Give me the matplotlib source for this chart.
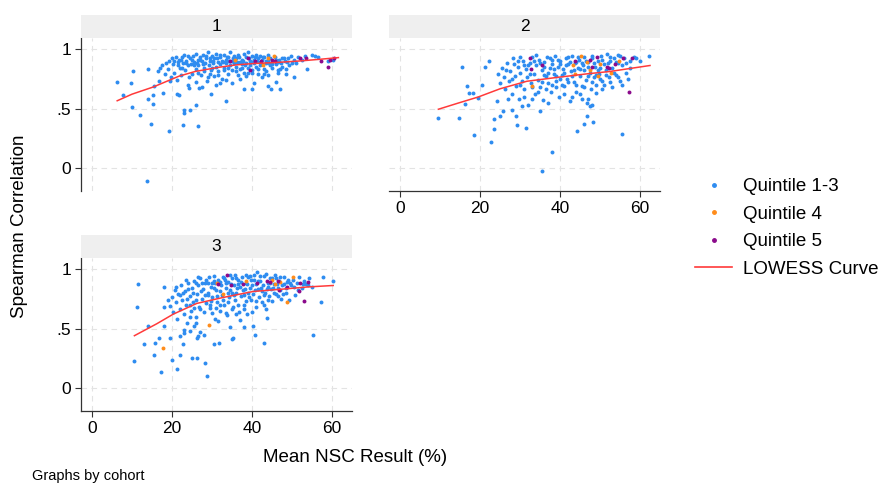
import matplotlib
matplotlib.use("Agg")
import numpy as np
import matplotlib.pyplot as plt
from matplotlib.lines import Line2D

plt.rcParams['font.family'] = ['Liberation Sans', 'DejaVu Sans']

# ---- data (x = mean NSC result %, y = Spearman correlation) ----
cohort1_q13 = [
    (6.3, 0.725), (7.7, 0.61), (9.7, 0.71), (10.2, 0.81), (10.1, 0.51), (12.0, 0.45),
    (14.1, 0.83), (13.9, 0.58), (15.2, 0.54), (14.7, 0.37), (13.75, -0.11), (15.2, 0.61),
    (15.4, 0.69), (16.8, 0.73), (17.8, 0.63), (19.3, 0.31), (19.5, 0.73), (21.25, 0.62),
    (21.75, 0.61), (22.75, 0.36), (22.9, 0.46), (23.1, 0.49), (24.4, 0.49), (25.9, 0.53),
    (26.5, 0.35), (24.3, 0.67), (26.75, 0.67), (29.7, 0.625), (33.6, 0.56), (32.0, 0.71),
    (38.1, 0.66), (40.1, 0.66), (40.5, 0.71), (43.9, 0.69), (44.7, 0.66), (46.0, 0.72),
    (46.9, 0.66), (50.5, 0.76), (53.7, 0.83), (55.75, 0.94), (59.0, 0.90), (60.3, 0.91),
    (16.5, 0.81), (17.0, 0.84), (17.5, 0.86), (18.2, 0.79), (18.5, 0.88), (19.0, 0.83),
    (19.2, 0.90), (19.8, 0.76), (20.0, 0.92), (20.3, 0.87), (20.6, 0.80), (20.9, 0.93),
    (21.2, 0.74), (21.4, 0.89), (21.8, 0.91), (22.0, 0.84), (22.3, 0.78), (22.5, 0.93),
    (22.8, 0.88), (23.0, 0.95), (23.3, 0.82), (23.6, 0.90), (23.9, 0.86), (24.2, 0.76),
    (24.5, 0.92), (24.8, 0.87), (25.0, 0.79), (25.3, 0.94), (25.6, 0.89), (25.9, 0.83),
    (26.1, 0.96), (26.4, 0.91), (26.6, 0.86), (26.9, 0.93), (27.2, 0.78), (27.4, 0.90),
    (27.7, 0.95), (27.9, 0.84), (28.2, 0.88), (28.4, 0.92), (28.7, 0.73), (28.9, 0.97),
    (29.2, 0.86), (29.4, 0.90), (29.7, 0.82), (29.9, 0.94), (30.2, 0.88), (30.4, 0.77),
    (30.6, 0.92), (30.9, 0.85), (31.1, 0.96), (31.4, 0.89), (31.6, 0.81), (31.9, 0.93),
    (32.1, 0.87), (32.4, 0.90), (32.6, 0.75), (32.9, 0.95), (33.1, 0.84), (33.4, 0.91),
    (33.6, 0.88), (33.9, 0.79), (34.1, 0.93), (34.4, 0.86), (34.6, 0.97), (34.9, 0.90),
    (35.1, 0.82), (35.4, 0.94), (35.6, 0.88), (35.9, 0.92), (36.1, 0.85), (36.4, 0.78),
    (36.6, 0.95), (36.9, 0.89), (37.1, 0.83), (37.4, 0.91), (37.6, 0.87), (37.9, 0.96),
    (38.1, 0.80), (38.4, 0.93), (38.6, 0.88), (38.9, 0.84), (39.1, 0.97), (39.4, 0.90),
    (39.6, 0.86), (39.9, 0.94), (40.1, 0.82), (40.4, 0.91), (40.6, 0.88), (40.9, 0.95),
    (41.1, 0.85), (41.4, 0.92), (41.6, 0.79), (41.9, 0.89), (42.1, 0.94), (42.4, 0.87),
    (42.6, 0.91), (42.9, 0.83), (43.1, 0.93), (43.4, 0.88), (43.6, 0.81), (43.9, 0.90),
    (44.1, 0.95), (44.4, 0.86), (44.6, 0.92), (44.9, 0.84), (45.3, 0.90), (45.7, 0.93),
    (46.0, 0.87), (46.4, 0.82), (46.8, 0.91), (47.2, 0.88), (47.6, 0.85), (48.0, 0.92),
    (48.4, 0.83), (48.8, 0.89), (49.3, 0.86), (49.8, 0.94), (50.4, 0.91), (51.0, 0.88),
    (51.5, 0.93), (52.5, 0.91), (53.3, 0.94), (55.0, 0.95), (56.5, 0.93),
    (24.0, 0.70), (26.0, 0.72), (27.5, 0.68), (29.0, 0.76), (31.0, 0.70), (33.5, 0.74),
    (35.0, 0.71), (37.0, 0.75), (38.5, 0.77), (40.0, 0.80), (42.5, 0.76), (44.0, 0.78),
    (46.5, 0.80), (48.5, 0.79),
    (20.5, 0.90), (21.5, 0.86), (22.2, 0.91), (23.4, 0.88), (24.0, 0.94), (25.1, 0.91),
    (26.2, 0.88), (27.0, 0.91), (27.8, 0.87), (28.6, 0.94), (29.5, 0.92), (30.3, 0.90),
    (31.2, 0.92), (32.0, 0.95), (32.8, 0.89), (33.7, 0.93), (34.3, 0.90), (35.2, 0.92),
    (36.2, 0.89), (36.8, 0.93), (37.7, 0.90), (38.3, 0.86), (39.2, 0.92), (39.8, 0.89),
    (40.7, 0.93), (41.3, 0.90), (42.0, 0.86), (42.8, 0.93), (43.5, 0.90), (44.3, 0.88),
    (45.0, 0.87), (45.9, 0.91), (46.6, 0.89), (47.5, 0.92), (48.2, 0.90), (49.0, 0.92),
    (50.0, 0.88), (30.0, 0.84), (33.0, 0.82), (36.0, 0.81), (39.0, 0.80), (41.5, 0.83),
    (43.0, 0.79), (47.0, 0.83), (22.5, 0.84), (25.5, 0.86), (28.0, 0.81), (31.5, 0.78),
    (34.0, 0.84), (37.5, 0.84), (26.5, 0.80), (29.5, 0.79),
]
cohort1_q4 = [(35.75, 0.91), (44.1, 0.92), (45.5, 0.94), (42.8, 0.86)]
cohort1_q5 = [
    (34.5, 0.895), (39.1, 0.925), (39.5, 0.82), (40.8, 0.90), (42.25, 0.895), (45.0, 0.91),
    (45.75, 0.90), (52.0, 0.92), (53.5, 0.925), (57.25, 0.90), (58.9, 0.85), (59.6, 0.91),
    (60.6, 0.925),
]
cohort1_lowess_x = [6.3, 10.0, 15.3, 18.5, 21.7, 25.8, 31.7, 36.0, 40.2, 46.0, 52.0, 57.0, 61.6]
cohort1_lowess_y = [0.565, 0.62, 0.68, 0.725, 0.77, 0.81, 0.845, 0.865, 0.876, 0.885, 0.898, 0.912, 0.926]

cohort2_q13 = [
    (9.6, 0.42), (14.7, 0.42), (15.5, 0.845), (16.7, 0.69), (17.2, 0.63), (18.2, 0.63),
    (16.25, 0.54), (18.5, 0.28), (19.6, 0.59), (20.6, 0.70), (21.25, 0.845), (22.25, 0.90),
    (22.75, 0.22), (23.5, 0.41), (23.5, 0.33), (24.2, 0.56), (25.0, 0.44), (25.8, 0.48),
    (27.9, 0.49), (28.9, 0.44), (29.25, 0.36), (31.6, 0.34), (38.0, 0.14), (35.4, -0.02),
    (44.25, 0.31), (46.1, 0.37), (46.8, 0.44), (48.2, 0.39), (55.6, 0.29), (62.25, 0.94),
    (24.5, 0.79), (25.0, 0.71), (25.5, 0.84), (26.0, 0.76), (26.3, 0.66), (26.8, 0.88),
    (27.2, 0.73), (27.5, 0.81), (28.0, 0.62), (28.3, 0.92), (28.7, 0.77), (29.0, 0.69),
    (29.4, 0.85), (29.8, 0.58), (30.1, 0.80), (30.4, 0.73), (30.8, 0.90), (31.1, 0.66),
    (31.4, 0.83), (31.8, 0.76), (32.1, 0.53), (32.4, 0.88), (32.8, 0.71), (33.1, 0.93),
    (33.5, 0.79), (33.8, 0.62), (34.1, 0.86), (34.5, 0.74), (34.8, 0.91), (35.1, 0.68),
    (35.5, 0.82), (35.8, 0.57), (36.1, 0.89), (36.5, 0.77), (36.8, 0.93), (37.1, 0.71),
    (37.5, 0.84), (37.8, 0.64), (38.1, 0.87), (38.5, 0.79), (38.8, 0.94), (39.1, 0.73),
    (39.5, 0.85), (39.8, 0.60), (40.1, 0.90), (40.5, 0.78), (40.8, 0.83), (41.1, 0.69),
    (41.5, 0.92), (41.8, 0.75), (42.1, 0.87), (42.5, 0.56), (42.8, 0.81), (43.1, 0.94),
    (43.5, 0.72), (43.8, 0.88), (44.1, 0.64), (44.5, 0.84), (44.8, 0.91), (45.1, 0.77),
    (45.5, 0.69), (45.8, 0.86), (46.1, 0.93), (46.5, 0.74), (46.8, 0.55), (47.1, 0.89),
    (47.5, 0.80), (47.8, 0.66), (48.1, 0.92), (48.5, 0.76), (48.8, 0.85), (49.1, 0.70),
    (49.5, 0.90), (49.8, 0.79), (50.2, 0.94), (50.6, 0.73), (51.0, 0.87), (51.4, 0.82),
    (51.8, 0.96), (52.2, 0.76), (52.6, 0.90), (53.0, 0.84), (53.5, 0.92), (54.0, 0.78),
    (54.5, 0.88), (55.0, 0.73), (55.5, 0.86), (56.0, 0.92), (56.5, 0.80), (57.0, 0.75),
    (57.5, 0.90), (58.5, 0.93), (60.0, 0.90),
    (28.5, 0.87), (30.0, 0.93), (32.0, 0.86), (34.0, 0.95), (36.0, 0.85), (38.0, 0.91),
    (40.0, 0.87), (42.0, 0.93), (44.0, 0.89), (46.0, 0.82), (48.0, 0.94), (50.0, 0.84),
    (52.0, 0.88), (54.5, 0.95), (36.5, 0.66), (39.0, 0.68), (41.0, 0.62), (43.0, 0.60),
    (45.0, 0.62), (47.0, 0.58), (49.0, 0.63), (51.0, 0.70), (53.0, 0.68), (55.5, 0.70),
    (47.5, 0.52), (48.0, 0.53), (33.0, 0.58), (35.0, 0.48), (37.0, 0.55), (31.0, 0.60),
    (27.0, 0.58), (30.5, 0.52),
    (26.5, 0.82), (28.0, 0.75), (29.5, 0.90), (31.0, 0.86), (32.5, 0.79), (33.5, 0.90),
    (35.0, 0.88), (36.0, 0.78), (37.5, 0.92), (38.5, 0.83), (39.5, 0.91), (40.5, 0.70),
    (41.5, 0.86), (42.5, 0.89), (43.5, 0.82), (44.5, 0.93), (45.5, 0.88), (46.5, 0.90),
    (47.0, 0.77), (48.5, 0.88), (49.5, 0.82), (50.5, 0.91), (51.5, 0.78), (52.5, 0.93),
    (53.5, 0.80), (54.0, 0.89), (55.0, 0.94), (56.5, 0.88), (57.5, 0.84), (59.0, 0.92),
    (30.0, 0.70), (33.0, 0.68), (35.5, 0.72), (38.0, 0.70), (40.0, 0.75), (42.0, 0.72),
    (44.0, 0.70), (46.0, 0.68), (48.0, 0.72), (50.0, 0.75), (52.5, 0.72), (54.5, 0.76),
    (37.0, 0.80), (39.0, 0.77), (41.0, 0.80), (43.0, 0.77), (45.0, 0.83), (47.0, 0.85),
    (49.0, 0.78), (34.5, 0.64), (45.5, 0.58), (50.5, 0.66),
]
cohort2_q4 = [
    (45.25, 0.94), (43.3, 0.86), (46.8, 0.89), (47.5, 0.82), (50.0, 0.87), (49.6, 0.77),
    (52.75, 0.80), (54.75, 0.90), (43.7, 0.79), (32.9, 0.69),
]
cohort2_q5 = [
    (35.4, 0.86), (43.75, 0.90), (47.5, 0.91), (47.9, 0.85), (49.25, 0.93), (51.7, 0.85),
    (53.75, 0.875), (55.8, 0.92), (58.1, 0.92), (57.3, 0.64), (52.3, 0.84), (32.5, 0.92),
    (32.75, 0.83),
]
cohort2_lowess_x = [9.6, 14.5, 19.6, 25.0, 31.7, 39.2, 46.7, 52.5, 57.5, 62.5]
cohort2_lowess_y = [0.494, 0.545, 0.597, 0.665, 0.728, 0.76, 0.79, 0.81, 0.835, 0.86]

cohort3_q13 = [
    (10.5, 0.23), (11.2, 0.68), (11.5, 0.87), (13.0, 0.37), (14.0, 0.52), (15.5, 0.28),
    (15.7, 0.38), (16.75, 0.42), (17.3, 0.14), (18.0, 0.68), (18.1, 0.85), (18.1, 0.52),
    (19.5, 0.42), (20.1, 0.24), (21.3, 0.165), (22.1, 0.28), (22.1, 0.44), (22.9, 0.49),
    (22.8, 0.37), (25.0, 0.25), (26.2, 0.25), (26.6, 0.44), (28.2, 0.21), (28.7, 0.105),
    (30.5, 0.37), (31.8, 0.38), (34.9, 0.41), (38.0, 0.51), (40.2, 0.52), (40.8, 0.45),
    (43.0, 0.375), (43.7, 0.59), (55.3, 0.45), (57.25, 0.72), (57.7, 0.93), (60.3, 0.90),
    (19.0, 0.74), (19.5, 0.69), (20.0, 0.76), (20.3, 0.64), (20.7, 0.82), (21.0, 0.72),
    (21.3, 0.58), (21.6, 0.79), (22.0, 0.66), (22.3, 0.86), (22.6, 0.74), (22.9, 0.62),
    (23.2, 0.81), (23.5, 0.70), (23.8, 0.55), (24.1, 0.88), (24.4, 0.77), (24.7, 0.65),
    (25.0, 0.84), (25.3, 0.72), (25.6, 0.90), (25.9, 0.60), (26.2, 0.79), (26.5, 0.86),
    (26.8, 0.68), (27.1, 0.92), (27.4, 0.75), (27.7, 0.83), (28.0, 0.64), (28.3, 0.88),
    (28.6, 0.71), (28.9, 0.80), (29.2, 0.93), (29.5, 0.67), (29.8, 0.85), (30.1, 0.76),
    (30.4, 0.90), (30.7, 0.58), (31.0, 0.82), (31.3, 0.72), (31.6, 0.91), (31.9, 0.65),
    (32.2, 0.86), (32.5, 0.78), (32.8, 0.93), (33.1, 0.70), (33.4, 0.84), (33.7, 0.61),
    (34.0, 0.89), (34.3, 0.76), (34.6, 0.82), (34.9, 0.92), (35.2, 0.68), (35.5, 0.86),
    (35.8, 0.74), (36.1, 0.80), (36.4, 0.91), (36.7, 0.64), (37.0, 0.85), (37.3, 0.77),
    (37.6, 0.93), (37.9, 0.70), (38.2, 0.83), (38.5, 0.88), (38.8, 0.62), (39.1, 0.80),
    (39.4, 0.94), (39.7, 0.74), (40.0, 0.86), (40.3, 0.79), (40.6, 0.91), (40.9, 0.68),
    (41.2, 0.97), (41.5, 0.83), (41.8, 0.76), (42.1, 0.90), (42.4, 0.72), (42.7, 0.86),
    (43.0, 0.94), (43.3, 0.80), (43.6, 0.66), (43.9, 0.88), (44.2, 0.77), (44.5, 0.92),
    (44.8, 0.83), (45.1, 0.73), (45.4, 0.87), (45.7, 0.95), (46.0, 0.79), (46.4, 0.84),
    (46.8, 0.90), (47.2, 0.75), (47.6, 0.86), (48.0, 0.93), (48.4, 0.80), (48.8, 0.89),
    (49.3, 0.74), (49.8, 0.86), (50.3, 0.91), (50.8, 0.78), (51.3, 0.88), (51.8, 0.93),
    (52.4, 0.84), (53.0, 0.90), (53.6, 0.87), (54.3, 0.92), (55.0, 0.85),
    (22.0, 0.78), (24.0, 0.83), (26.0, 0.74), (27.5, 0.88), (29.0, 0.78), (30.5, 0.84),
    (32.0, 0.81), (33.5, 0.88), (35.0, 0.80), (36.5, 0.87), (38.0, 0.78), (39.5, 0.84),
    (41.0, 0.87), (42.5, 0.81), (44.0, 0.85), (45.5, 0.80), (47.0, 0.82), (26.5, 0.93),
    (28.5, 0.91), (30.0, 0.88), (34.5, 0.95), (36.0, 0.92), (38.5, 0.95), (40.5, 0.95),
    (43.5, 0.96), (46.0, 0.92), (49.0, 0.91), (24.5, 0.60), (26.0, 0.55), (27.0, 0.47),
    (28.0, 0.45), (31.5, 0.56), (33.5, 0.63), (36.0, 0.62), (37.0, 0.57), (30.0, 0.63),
    (35.0, 0.66), (38.0, 0.66), (40.0, 0.64), (43.0, 0.70), (23.0, 0.46), (24.5, 0.48),
    (26.3, 0.42), (25.5, 0.52), (34.5, 0.51), (35.2, 0.42),
    (21.0, 0.85), (22.8, 0.80), (23.8, 0.75), (25.2, 0.80), (26.0, 0.88), (27.2, 0.81),
    (28.2, 0.78), (29.0, 0.88), (29.8, 0.73), (30.8, 0.88), (31.2, 0.77), (32.0, 0.89),
    (32.8, 0.74), (33.2, 0.91), (34.0, 0.80), (34.8, 0.87), (35.5, 0.78), (36.3, 0.84),
    (37.2, 0.89), (37.8, 0.82), (38.8, 0.87), (39.2, 0.76), (39.8, 0.91), (40.8, 0.82),
    (41.5, 0.90), (42.2, 0.84), (42.9, 0.78), (43.8, 0.83), (44.6, 0.88), (45.3, 0.84),
    (46.2, 0.87), (47.0, 0.93), (47.8, 0.79), (48.6, 0.84), (49.5, 0.88), (50.5, 0.85),
    (51.5, 0.82), (52.8, 0.87), (54.0, 0.86), (24.5, 0.70), (27.0, 0.66), (29.5, 0.70),
    (32.0, 0.70), (34.0, 0.72), (36.5, 0.70), (38.5, 0.73), (41.0, 0.73), (44.0, 0.74),
    (46.5, 0.77), (30.5, 0.94), (33.0, 0.92), (35.8, 0.95), (39.0, 0.93), (42.0, 0.94),
    (45.0, 0.92), (48.0, 0.87), (23.5, 0.91), (25.5, 0.67), (31.0, 0.67),
]
cohort3_q4 = [
    (31.2, 0.88), (32.8, 0.79), (38.4, 0.90), (44.9, 0.91), (45.75, 0.87), (47.0, 0.89),
    (50.2, 0.93), (48.7, 0.72), (29.25, 0.53), (17.8, 0.34),
]
cohort3_q5 = [
    (31.6, 0.87), (33.7, 0.95), (34.75, 0.86), (37.8, 0.87), (41.2, 0.885), (43.7, 0.90),
    (44.5, 0.89), (46.8, 0.82), (48.8, 0.85), (52.0, 0.885), (51.8, 0.81), (54.1, 0.89),
    (53.0, 0.73), (46.6, 0.90),
]
cohort3_lowess_x = [10.6, 16.2, 20.3, 26.2, 32.8, 40.3, 47.8, 54.0, 60.3]
cohort3_lowess_y = [0.44, 0.54, 0.62, 0.71, 0.76, 0.81, 0.83, 0.848, 0.86]

cohort_labels = ['1', '2', '3']
legend_labels = ['Quintile 1-3', 'Quintile 4', 'Quintile 5', 'LOWESS Curve']

# ---- styling ----
c_q13 = '#2E8CF0'
c_q4 = '#FF8C1A'
c_q5 = '#8B0A8B'
c_line = '#FF3A3A'
grid_c = '#E3E3E3'

W, H = 879, 483
fig = plt.figure(figsize=(W / 100, H / 100), dpi=100)


def frac(left, top, right, bottom):
    return [left / W, 1 - bottom / H, (right - left) / W, (bottom - top) / H]


panels = [
    (cohort1_q13, cohort1_q4, cohort1_q5, cohort1_lowess_x, cohort1_lowess_y, frac(81, 38, 352, 191), True, False),
    (cohort2_q13, cohort2_q4, cohort2_q5, cohort2_lowess_x, cohort2_lowess_y, frac(389, 38, 660, 191), False, True),
    (cohort3_q13, cohort3_q4, cohort3_q5, cohort3_lowess_x, cohort3_lowess_y, frac(81, 258, 352, 411), True, True),
]

for i, (q13, q4, q5, lx, ly, pos, show_y, show_x) in enumerate(panels):
    ax = fig.add_axes(pos)
    for pts, col in [(q13, c_q13), (q4, c_q4), (q5, c_q5)]:
        a = np.array(pts)
        ax.scatter(a[:, 0], a[:, 1], s=8, color=col, linewidths=0, zorder=3)
    ax.plot(lx, ly, color=c_line, lw=1.1, zorder=4)

    ax.set_xlim(-2.75, 65)
    ax.set_ylim(-0.19, 1.09)
    ax.set_xticks([0, 20, 40, 60])
    ax.set_yticks([0, 0.5, 1])
    ax.set_yticklabels(['0', '.5', '1'])
    ax.grid(True, color=grid_c, lw=0.8, ls=(0, (5, 4)))
    ax.set_axisbelow(True)
    for s in ['top', 'right']:
        ax.spines[s].set_visible(False)
    ax.spines['left'].set_visible(show_y)
    ax.spines['bottom'].set_visible(show_x)
    for s in ['left', 'bottom']:
        ax.spines[s].set_color('#333333')
        ax.spines[s].set_linewidth(0.9)
    ax.tick_params(axis='y', left=show_y, labelleft=show_y, labelsize=12.5,
                   length=4, color='#333333', pad=3)
    ax.tick_params(axis='x', bottom=show_x, labelbottom=show_x, labelsize=12.5,
                   length=4, color='#333333', pad=3)

    # strip header
    sx = fig.add_axes([pos[0], pos[1] + pos[3], pos[2], 23 / H])
    sx.set_facecolor('#EFEFEF')
    sx.set_xticks([])
    sx.set_yticks([])
    for s in sx.spines.values():
        s.set_visible(False)
    sx.text(0.5, 0.5, cohort_labels[i], ha='center', va='center', fontsize=12.5)

fig.text(20 / W, 1 - 226 / H, 'Spearman Correlation', rotation=90, ha='center',
         va='center', fontsize=13.5)
fig.text(355 / W, 1 - 457 / H, 'Mean NSC Result (%)', ha='center', va='center', fontsize=13.5)
fig.text(32 / W, 1 - 476 / H, 'Graphs by cohort', ha='left', va='center', fontsize=10.5)

handles = [
    Line2D([], [], ls='none', marker='o', ms=2.5, color=c_q13),
    Line2D([], [], ls='none', marker='o', ms=2.5, color=c_q4),
    Line2D([], [], ls='none', marker='o', ms=2.5, color=c_q5),
    Line2D([], [], color=c_line, lw=1.2),
]
fig.legend(handles, legend_labels, loc='center left', bbox_to_anchor=(695 / W, 1 - 228 / H),
           frameon=False, fontsize=13.5, handlelength=2.0, handletextpad=0.55,
           labelspacing=0.55, borderpad=0, borderaxespad=0)

fig.savefig('out.png', dpi=100)
